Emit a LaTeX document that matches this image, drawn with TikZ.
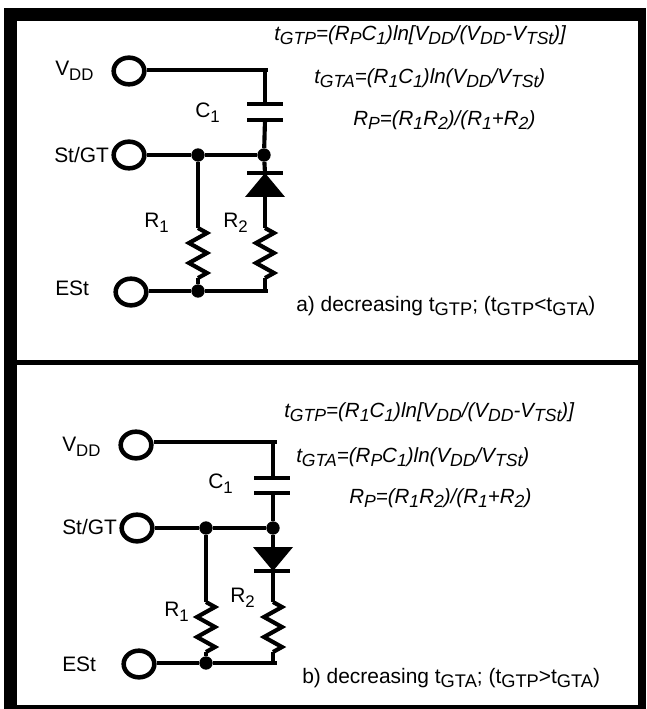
\documentclass[tikz,border=0pt]{standalone}
\usepackage{fontspec}
\setmainfont{Liberation Sans}
\usetikzlibrary{shapes.geometric}
\newcommand{\sbs}[1]{\raisebox{-.42ex}{\fontsize{12.6}{13}\selectfont #1}}
\newcommand{\cbs}[1]{\raisebox{-.42ex}{\fontsize{13.7}{13}\selectfont #1}}
\newcommand{\isb}[1]{\raisebox{-.42ex}{\fontsize{13.2}{13}\selectfont\itshape #1}}
\tikzset{
 wire/.style={line width=3.1pt,line cap=butt,line join=miter},
 term/.style={draw,ellipse,line width=3.4pt,fill=white,minimum width=23pt,minimum height=20pt,inner sep=0pt},
 dot/.style={circle,fill=black,minimum size=10pt,inner sep=0pt},
 lab/.style={anchor=west,inner sep=0pt,font=\fontsize{15.7}{15}\selectfont},
 form/.style={anchor=west,inner sep=0pt,font=\fontsize{15.4}{15}\selectfont\itshape},
 captext/.style={anchor=west,inner sep=0pt,font=\fontsize{15.7}{15}\selectfont},
 res/.pic={\draw[wire,miter limit=10] (0,-26) -- (9,-21) -- (-9,-11) -- (9,-1) -- (-9,9) -- (9,19) -- (0,24);},
}
\begin{document}
\begin{tikzpicture}[x=.75pt,y=-.75pt]
\useasboundingbox (0,0) rectangle (646,709);
\fill[black] (4,8) rectangle (646,709);
\fill[white] (17,21) rectangle (638,360);
\fill[white] (17,365) rectangle (638,705);

% panel a
\node[term] (va) at (129,71) {};
\node[term] (sa) at (129,155) {};
\node[term] (ea) at (131,292) {};
\node[dot] (d1a) at (198,155) {};
\node[dot] (d2a) at (264,155) {};
\node[dot] (d3a) at (198,291) {};
\coordinate (tra) at (268,70);
\coordinate (bra) at (268,291);
\coordinate (da) at (265,173);
\coordinate (dba) at (265,197);
\coordinate (r1a) at (198,254);
\coordinate (r2a) at (265,254);
\draw[wire] (va.east |- tra) -- (tra);
\draw[wire] (265,68.5) -- (265,104);
\draw[wire] (265,120) -- (d2a);
\draw[wire] (sa) -- (d1a) -- (d2a);
\draw[wire] (d2a) -- (da);
\draw[wire] (247,173) -- (283,173);
\fill[black] (265,173) -- (245,197) -- (285,197) -- cycle;
\draw[wire] (dba) -- (265,228);
\draw[wire] (d1a) -- (198,228);
\pic at (r1a) {res};
\pic at (r2a) {res};
\draw[wire] (198,278) -- (d3a);
\draw[wire] (265,278) -- (265,291);
\draw[wire] (ea.east |- d3a) -- (d3a) -- (bra);
\draw[wire] (247,104) -- (283,104);
\draw[wire] (247,120) -- (283,120);
\node[lab] (tva) at (55,71) {V\sbs{DD}};
\node[lab] (tsa) at (54,155) {St/GT};
\node[lab] (tea) at (55,288) {ESt};
\node[lab] (tca) at (195,113) {C\sbs{1}};
\node[lab] (tr1a) at (144,223) {R\sbs{1}};
\node[lab] (tr2a) at (223,223) {R\sbs{2}};
\node[form] (f1a) at (274,35) {t\isb{GTP}=(R\isb{P}C\isb{1})ln[V\isb{DD}/(V\isb{DD}-V\isb{TSt})]};
\node[form] (f2a) at (314,78) {t\isb{GTA}=(R\isb{1}C\isb{1})ln(V\isb{DD}/V\isb{TSt})};
\node[form] (f3a) at (353,120) {R\isb{P}=(R\isb{1}R\isb{2})/(R\isb{1}+R\isb{2})};
\node[captext] (ca) at (296,306) {a) decreasing t\cbs{GTP}; (t\cbs{GTP}<t\cbs{GTA})};

% panel b
\node[term] (vb) at (136,445) {};
\node[term] (sb) at (137,528) {};
\node[term] (eb) at (139,664) {};
\node[dot] (d1b) at (206,528) {};
\node[dot] (d2b) at (273,528) {};
\node[dot] (d3b) at (206,663) {};
\coordinate (trb) at (277,442);
\coordinate (brb) at (277,663);
\coordinate (dbb) at (273,571);
\coordinate (r1b) at (206,628);
\coordinate (r2b) at (273,628);
\draw[wire] (vb.east |- trb) -- (trb);
\draw[wire] (273,440.5) -- (273,478);
\draw[wire] (273,493) -- (d2b);
\draw[wire] (sb) -- (d1b) -- (d2b);
\draw[wire] (d2b) -- (273,547);
\fill[black] (273,571) -- (253,547) -- (293,547) -- cycle;
\draw[wire] (254,571) -- (290,571);
\draw[wire] (dbb) -- (273,602);
\draw[wire] (d1b) -- (206,602);
\pic at (r1b) {res};
\pic at (r2b) {res};
\draw[wire] (206,652) -- (d3b);
\draw[wire] (273,652) -- (273,663);
\draw[wire] (eb.east |- d3b) -- (d3b) -- (brb);
\draw[wire] (254,478) -- (290,478);
\draw[wire] (254,493) -- (290,493);
\node[lab] (tvb) at (62,447) {V\sbs{DD}};
\node[lab] (tsb) at (62,527) {St/GT};
\node[lab] (teb) at (62,664) {ESt};
\node[lab] (tcb) at (208,484) {C\sbs{1}};
\node[lab] (tr1b) at (164,612) {R\sbs{1}};
\node[lab] (tr2b) at (230,598) {R\sbs{2}};
\node[form] (f1b) at (284,412) {t\isb{GTP}=(R\isb{1}C\isb{1})ln[V\isb{DD}/(V\isb{DD}-V\isb{TSt})]};
\node[form] (f2b) at (296,457) {t\isb{GTA}=(R\isb{P}C\isb{1})ln(V\isb{DD}/V\isb{TSt})};
\node[form] (f3b) at (349,498) {R\isb{P}=(R\isb{1}R\isb{2})/(R\isb{1}+R\isb{2})};
\node[captext] (cb) at (302,678) {b) decreasing t\cbs{GTA}; (t\cbs{GTP}>t\cbs{GTA})};
\end{tikzpicture}
\end{document}
